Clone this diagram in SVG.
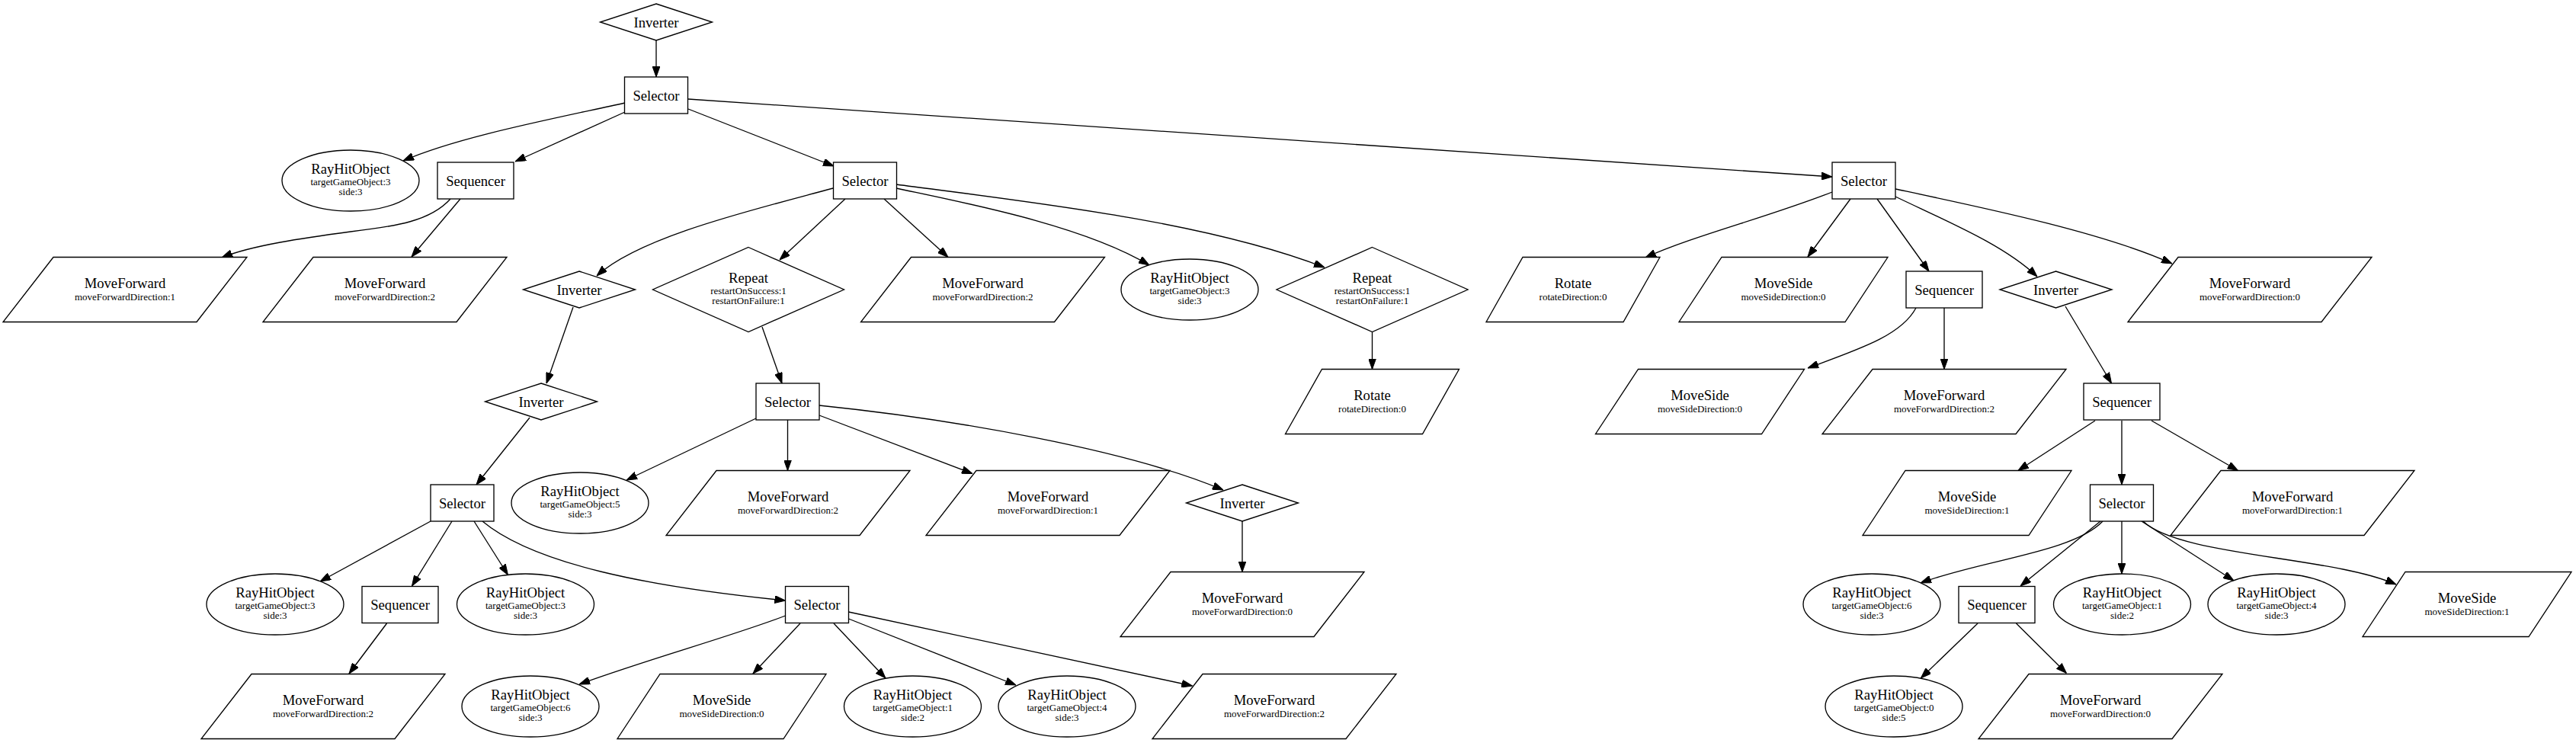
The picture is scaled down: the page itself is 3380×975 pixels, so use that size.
<svg xmlns="http://www.w3.org/2000/svg" width="3380" height="975" viewBox="0 0 3380 975">
<style>
.sh{fill:#fff;stroke:#000;stroke-width:1.33}
text{font-family:"Liberation Serif","Times New Roman",serif;font-size:18.67px;text-anchor:middle;fill:#000}
text.s{font-size:13px}
#edges path{fill:none;stroke:#000;stroke-width:1.33;marker-end:url(#ah)}
</style>
<defs>
<marker id="ah" markerUnits="userSpaceOnUse" markerWidth="14" markerHeight="10" refX="14" refY="5" orient="auto" viewBox="0 0 14 10"><path d="M0,0 L14,5 L0,10 z" fill="#000" stroke="#000" stroke-width="1"/></marker>
<rect id="sel" class="sh" x="-41.5" y="-24" width="83" height="48"/>
<rect id="seq" class="sh" x="-50" y="-24" width="100" height="48"/>
<polygon id="inv" class="sh" points="0,-24 73.5,0 0,24 -73.5,0"/>
<polygon id="rep" class="sh" points="0,-55.5 125.5,0 0,55.5 -125.5,0"/>
<ellipse id="ray" class="sh" cx="0" cy="0" rx="90" ry="40"/>
<polygon id="mf" class="sh" points="-94,-42.5 160,-42.5 94,42.5 -160,42.5"/>
<polygon id="ms" class="sh" points="-81,-42.5 137,-42.5 81,42.5 -137,42.5"/>
<polygon id="rot" class="sh" points="-66,-42.5 114,-42.5 66,42.5 -114,42.5"/>
</defs>
<rect x="0" y="0" width="3380" height="975" fill="#fff"/>
<g id="edges">
<path d="M861,53 L861,101"/>
<path d="M820,135 C720,157 600,180 529,211"/>
<path d="M820,147 L676,212"/>
<path d="M903,143 L1094,218"/>
<path d="M903,130 L2404,232"/>
<path d="M591,261 C565,290 520,297 460,304 C400,312 330,322 291,338"/>
<path d="M604,261 L540,337"/>
<path d="M1093,247 C990,275 840,310 783,362"/>
<path d="M1109,261 L1023,341"/>
<path d="M1160,261 L1244,337.5"/>
<path d="M1176,247 C1260,265 1420,295 1508,348"/>
<path d="M1176,242 C1350,265 1580,290 1738,351"/>
<path d="M1000,429 L1026,503"/>
<path d="M752,403 L717,503"/>
<path d="M695,548 L625,636"/>
<path d="M1800.5,436 L1800.5,484.5"/>
<path d="M2404,252 C2320,285 2220,310 2159,338"/>
<path d="M2428,261 L2372,337"/>
<path d="M2463,261 L2531,356"/>
<path d="M2487,258 C2560,293 2630,322 2673,363"/>
<path d="M2487,248 C2600,272 2760,305 2850,346"/>
<path d="M2514,404 C2495,440 2440,458 2372,483"/>
<path d="M2551,404 L2551,484.5"/>
<path d="M2710,402 L2770.5,503"/>
<path d="M2749,552 L2648,617.5"/>
<path d="M2784,552 L2784,636"/>
<path d="M2823,552 L2936.5,617.5"/>
<path d="M565,684 L420,763"/>
<path d="M593,684 L540.5,769"/>
<path d="M622,684 L666.5,754.5"/>
<path d="M633,684 C700,740 850,770 1030.5,788"/>
<path d="M507.5,818 L458,884"/>
<path d="M1030.5,808 C960,835 850,865 760,898"/>
<path d="M1050,818 L988,884"/>
<path d="M1094,818 L1162,890"/>
<path d="M1113.5,812 L1333,899"/>
<path d="M1113.5,803 L1564.5,900"/>
<path d="M992,549 L822,630"/>
<path d="M1033.5,551 L1033.5,617.5"/>
<path d="M1075,545 L1276,621.5"/>
<path d="M1075,532 C1250,550 1480,590 1605,643"/>
<path d="M1630,684 L1630,750.5"/>
<path d="M2759,684 C2720,725 2600,735 2520,765"/>
<path d="M2756,684 L2651,769"/>
<path d="M2784,684 L2784,753"/>
<path d="M2810,684 L2931,762"/>
<path d="M2812,684 C2860,730 3060,730 3144,767"/>
<path d="M2595,818 L2520.3,890"/>
<path d="M2645.5,818 L2711.5,883.5"/>
</g>
<g id="n1" transform="translate(861,29)"><use href="#inv"/><text y="6.5">Inverter</text></g>
<g id="n2" transform="translate(861,125)"><use href="#sel"/><text y="6.5">Selector</text></g>
<g id="n3" transform="translate(460,237)"><use href="#ray"/><text y="-9">RayHitObject</text><text class="s" y="5.5">targetGameObject:3</text><text class="s" y="19">side:3</text></g>
<g id="n4" transform="translate(624,237)"><use href="#seq"/><text y="6.5">Sequencer</text></g>
<g id="n5" transform="translate(1135,237)"><use href="#sel"/><text y="6.5">Selector</text></g>
<g id="n6" transform="translate(2445.5,237)"><use href="#sel"/><text y="6.5">Selector</text></g>
<g id="n7" transform="translate(164,380)"><use href="#mf"/><text y="-2">MoveForward</text><text class="s" y="13.5">moveForwardDirection:1</text></g>
<g id="n8" transform="translate(505,380)"><use href="#mf"/><text y="-2">MoveForward</text><text class="s" y="13.5">moveForwardDirection:2</text></g>
<g id="n9" transform="translate(760,380)"><use href="#inv"/><text y="6.5">Inverter</text></g>
<g id="n10" transform="translate(982,380)"><use href="#rep"/><text y="-9">Repeat</text><text class="s" y="5.5">restartOnSuccess:1</text><text class="s" y="19">restartOnFailure:1</text></g>
<g id="n11" transform="translate(1289.5,380)"><use href="#mf"/><text y="-2">MoveForward</text><text class="s" y="13.5">moveForwardDirection:2</text></g>
<g id="n12" transform="translate(1561,380)"><use href="#ray"/><text y="-9">RayHitObject</text><text class="s" y="5.5">targetGameObject:3</text><text class="s" y="19">side:3</text></g>
<g id="n13" transform="translate(1800.5,380)"><use href="#rep"/><text y="-9">Repeat</text><text class="s" y="5.5">restartOnSuccess:1</text><text class="s" y="19">restartOnFailure:1</text></g>
<g id="n14" transform="translate(2064,380)"><use href="#rot"/><text y="-2">Rotate</text><text class="s" y="13.5">rotateDirection:0</text></g>
<g id="n15" transform="translate(2340,380)"><use href="#ms"/><text y="-2">MoveSide</text><text class="s" y="13.5">moveSideDirection:0</text></g>
<g id="n16" transform="translate(2551,380)"><use href="#seq"/><text y="6.5">Sequencer</text></g>
<g id="n17" transform="translate(2697.5,380)"><use href="#inv"/><text y="6.5">Inverter</text></g>
<g id="n18" transform="translate(2952,380)"><use href="#mf"/><text y="-2">MoveForward</text><text class="s" y="13.5">moveForwardDirection:0</text></g>
<g id="n19" transform="translate(710,527)"><use href="#inv"/><text y="6.5">Inverter</text></g>
<g id="n20" transform="translate(1033.5,527)"><use href="#sel"/><text y="6.5">Selector</text></g>
<g id="n21" transform="translate(1800.5,527)"><use href="#rot"/><text y="-2">Rotate</text><text class="s" y="13.5">rotateDirection:0</text></g>
<g id="n22" transform="translate(2230.5,527)"><use href="#ms"/><text y="-2">MoveSide</text><text class="s" y="13.5">moveSideDirection:0</text></g>
<g id="n23" transform="translate(2551,527)"><use href="#mf"/><text y="-2">MoveForward</text><text class="s" y="13.5">moveForwardDirection:2</text></g>
<g id="n24" transform="translate(2784,527)"><use href="#seq"/><text y="6.5">Sequencer</text></g>
<g id="n25" transform="translate(606.5,660)"><use href="#sel"/><text y="6.5">Selector</text></g>
<g id="n26" transform="translate(761,660)"><use href="#ray"/><text y="-9">RayHitObject</text><text class="s" y="5.5">targetGameObject:5</text><text class="s" y="19">side:3</text></g>
<g id="n27" transform="translate(1034,660)"><use href="#mf"/><text y="-2">MoveForward</text><text class="s" y="13.5">moveForwardDirection:2</text></g>
<g id="n28" transform="translate(1375,660)"><use href="#mf"/><text y="-2">MoveForward</text><text class="s" y="13.5">moveForwardDirection:1</text></g>
<g id="n29" transform="translate(1630,660)"><use href="#inv"/><text y="6.5">Inverter</text></g>
<g id="n30" transform="translate(2581,660)"><use href="#ms"/><text y="-2">MoveSide</text><text class="s" y="13.5">moveSideDirection:1</text></g>
<g id="n31" transform="translate(2784,660)"><use href="#sel"/><text y="6.5">Selector</text></g>
<g id="n32" transform="translate(3008,660)"><use href="#mf"/><text y="-2">MoveForward</text><text class="s" y="13.5">moveForwardDirection:1</text></g>
<g id="n33" transform="translate(361,793)"><use href="#ray"/><text y="-9">RayHitObject</text><text class="s" y="5.5">targetGameObject:3</text><text class="s" y="19">side:3</text></g>
<g id="n34" transform="translate(525,793.5)"><use href="#seq"/><text y="6.5">Sequencer</text></g>
<g id="n35" transform="translate(689.5,793)"><use href="#ray"/><text y="-9">RayHitObject</text><text class="s" y="5.5">targetGameObject:3</text><text class="s" y="19">side:3</text></g>
<g id="n36" transform="translate(1072,793.5)"><use href="#sel"/><text y="6.5">Selector</text></g>
<g id="n37" transform="translate(1630,793)"><use href="#mf"/><text y="-2">MoveForward</text><text class="s" y="13.5">moveForwardDirection:0</text></g>
<g id="n38" transform="translate(2456,793)"><use href="#ray"/><text y="-9">RayHitObject</text><text class="s" y="5.5">targetGameObject:6</text><text class="s" y="19">side:3</text></g>
<g id="n39" transform="translate(2620,793.5)"><use href="#seq"/><text y="6.5">Sequencer</text></g>
<g id="n40" transform="translate(2784.5,793)"><use href="#ray"/><text y="-9">RayHitObject</text><text class="s" y="5.5">targetGameObject:1</text><text class="s" y="19">side:2</text></g>
<g id="n41" transform="translate(2987,793)"><use href="#ray"/><text y="-9">RayHitObject</text><text class="s" y="5.5">targetGameObject:4</text><text class="s" y="19">side:3</text></g>
<g id="n42" transform="translate(3237,793)"><use href="#ms"/><text y="-2">MoveSide</text><text class="s" y="13.5">moveSideDirection:1</text></g>
<g id="n43" transform="translate(424,927)"><use href="#mf"/><text y="-2">MoveForward</text><text class="s" y="13.5">moveForwardDirection:2</text></g>
<g id="n44" transform="translate(696,927)"><use href="#ray"/><text y="-9">RayHitObject</text><text class="s" y="5.5">targetGameObject:6</text><text class="s" y="19">side:3</text></g>
<g id="n45" transform="translate(947,927)"><use href="#ms"/><text y="-2">MoveSide</text><text class="s" y="13.5">moveSideDirection:0</text></g>
<g id="n46" transform="translate(1197.5,927)"><use href="#ray"/><text y="-9">RayHitObject</text><text class="s" y="5.5">targetGameObject:1</text><text class="s" y="19">side:2</text></g>
<g id="n47" transform="translate(1400,927)"><use href="#ray"/><text y="-9">RayHitObject</text><text class="s" y="5.5">targetGameObject:4</text><text class="s" y="19">side:3</text></g>
<g id="n48" transform="translate(1672,927)"><use href="#mf"/><text y="-2">MoveForward</text><text class="s" y="13.5">moveForwardDirection:2</text></g>
<g id="n49" transform="translate(2485,927)"><use href="#ray"/><text y="-9">RayHitObject</text><text class="s" y="5.5">targetGameObject:0</text><text class="s" y="19">side:5</text></g>
<g id="n50" transform="translate(2756,927)"><use href="#mf"/><text y="-2">MoveForward</text><text class="s" y="13.5">moveForwardDirection:0</text></g>
</svg>
